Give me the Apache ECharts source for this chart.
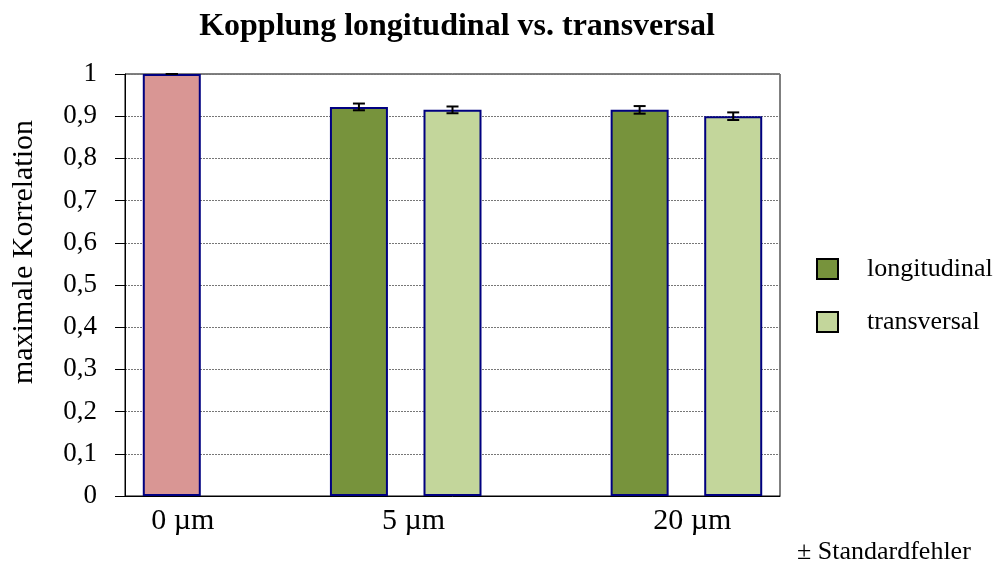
<!DOCTYPE html>
<html>
<head>
<meta charset="utf-8">
<script src="https://cdn.jsdelivr.net/npm/echarts@6/dist/echarts.min.js"></script>
<style>html,body{margin:0;padding:0;background:#fff}#c{width:995px;height:568px}</style>
</head>
<body>
<div id="c"></div>
<script>
// ---- data ----
const groupLabels = ['0 µm', '5 µm', '20 µm'];
const yTicks = [0, 0.1, 0.2, 0.3, 0.4, 0.5, 0.6, 0.7, 0.8, 0.9, 1];
const referenceValue = [1.0];      // 0 µm
const referenceErr = [0.0];
const longitudinal = [0.922, 0.915]; // 5 µm, 20 µm
const longitudinalErr = [0.008, 0.009];
const transversal = [0.915, 0.900];  // 5 µm, 20 µm
const transversalErr = [0.008, 0.009];

// ---- slot layout (7 equal category slots) ----
const N = 7;
const refSlot = [0];
const longSlot = [2, 5];
const transSlot = [3, 6];
const labelSlot = [0, 3, 6];
const labelKeys = ['a', 'b', 'c'];

const slots = new Array(N).fill('');
labelSlot.forEach((s, i) => slots[s] = labelKeys[i] + '#' + groupLabels[i]);
function fill(slotIdx, vals) {
  const arr = new Array(N).fill('-');
  slotIdx.forEach((s, i) => arr[s] = vals[i]);
  return arr;
}
const errData = [];
refSlot.forEach((s, i) => errData.push([s, referenceValue[i], referenceErr[i]]));
longSlot.forEach((s, i) => errData.push([s, longitudinal[i], longitudinalErr[i]]));
transSlot.forEach((s, i) => errData.push([s, transversal[i], transversalErr[i]]));

const FONT = "'Liberation Serif', 'Times New Roman', serif";
const chart = echarts.init(document.getElementById('c'));
chart.setOption({
  animation: false,
  backgroundColor: '#fff',
  title: {
    text: 'Kopplung longitudinal vs. transversal',
    left: 452, textAlign: 'center', top: 6,
    textStyle: { fontFamily: FONT, fontSize: 32, fontWeight: 'bold', color: '#000' }
  },
  legend: {
    data: ['longitudinal', 'transversal'],
    orient: 'vertical',
    left: 811, top: 251,
    itemWidth: 21, itemHeight: 20, itemGap: 27,
    icon: 'rect',
    itemStyle: { borderColor: '#000', borderWidth: 2 },
    textStyle: { fontFamily: FONT, fontSize: 26, color: '#000', padding: [0, 0, 0, 24] }
  },
  grid: {
    left: 125, right: 215, top: 74, bottom: 72,
    show: true, borderColor: '#000', borderWidth: 1
  },
  xAxis: {
    type: 'category',
    data: slots,
    axisLine: { lineStyle: { color: '#000', width: 1 } },
    axisTick: { show: false },
    axisLabel: {
      interval: 0, margin: 10,
      fontFamily: FONT, fontSize: 30, color: '#000',
      formatter: v => {
        if (!v) return '';
        const [k, t] = v.split('#');
        return '{' + k + '|' + t + '}';
      },
      rich: {
        a: { fontFamily: FONT, fontSize: 30, color: '#000', padding: [0, 0, 0, 22] },
        b: { fontFamily: FONT, fontSize: 30, color: '#000', padding: [0, 78, 0, 0] },
        c: { fontFamily: FONT, fontSize: 30, color: '#000', padding: [0, 82, 0, 0] }
      }
    }
  },
  yAxis: {
    type: 'value', min: yTicks[0], max: yTicks[yTicks.length - 1], interval: 0.1,
    name: 'maximale Korrelation',
    nameLocation: 'middle', nameGap: 86,
    nameTextStyle: { fontFamily: FONT, fontSize: 30, color: '#000', padding: [0, 0, 0, 66] },
    axisLine: { show: true, lineStyle: { color: '#000', width: 1 } },
    axisTick: { show: true, length: 10, lineStyle: { color: '#000' } },
    axisLabel: {
      margin: 28, fontFamily: FONT, fontSize: 27, color: '#000',
      formatter: v => {
        const r = Math.round(v * 10) / 10;
        return (r === 0 || r === 1) ? String(r) : r.toFixed(1).replace('.', ',');
      }
    },
    splitLine: { show: true, lineStyle: { color: '#777', width: 1, type: [2, 1] } }
  },
  series: [
    {
      name: '0 µm', type: 'bar', data: fill(refSlot, referenceValue),
      barWidth: 58, barGap: '-100%',
      itemStyle: { color: '#D99694', borderColor: '#000080', borderWidth: 2 }
    },
    {
      name: 'longitudinal', type: 'bar', data: fill(longSlot, longitudinal),
      barWidth: 58, barGap: '-100%',
      itemStyle: { color: '#77933C', borderColor: '#000080', borderWidth: 2 }
    },
    {
      name: 'transversal', type: 'bar', data: fill(transSlot, transversal),
      barWidth: 58, barGap: '-100%',
      itemStyle: { color: '#C3D69B', borderColor: '#000080', borderWidth: 2 }
    },
    {
      name: 'err', type: 'custom', data: errData, z: 10,
      renderItem: (params, api) => {
        const x = api.value(0), v = api.value(1), e = api.value(2);
        const hi = api.coord([x, v + e]);
        const lo = api.coord([x, v - e]);
        const w = 6;
        const st = { stroke: '#000', lineWidth: 2 };
        return {
          type: 'group',
          children: [
            { type: 'line', shape: { x1: hi[0], y1: hi[1], x2: lo[0], y2: lo[1] }, style: st },
            { type: 'line', shape: { x1: hi[0] - w, y1: hi[1], x2: hi[0] + w, y2: hi[1] }, style: st },
            { type: 'line', shape: { x1: lo[0] - w, y1: lo[1], x2: lo[0] + w, y2: lo[1] }, style: st }
          ]
        };
      }
    }
  ],
  graphic: [
    {
      type: 'text', left: 797, top: 539,
      style: { text: '± Standardfehler', fontFamily: FONT, fontSize: 26, fill: '#000' }
    }
  ]
});
</script>
</body>
</html>
